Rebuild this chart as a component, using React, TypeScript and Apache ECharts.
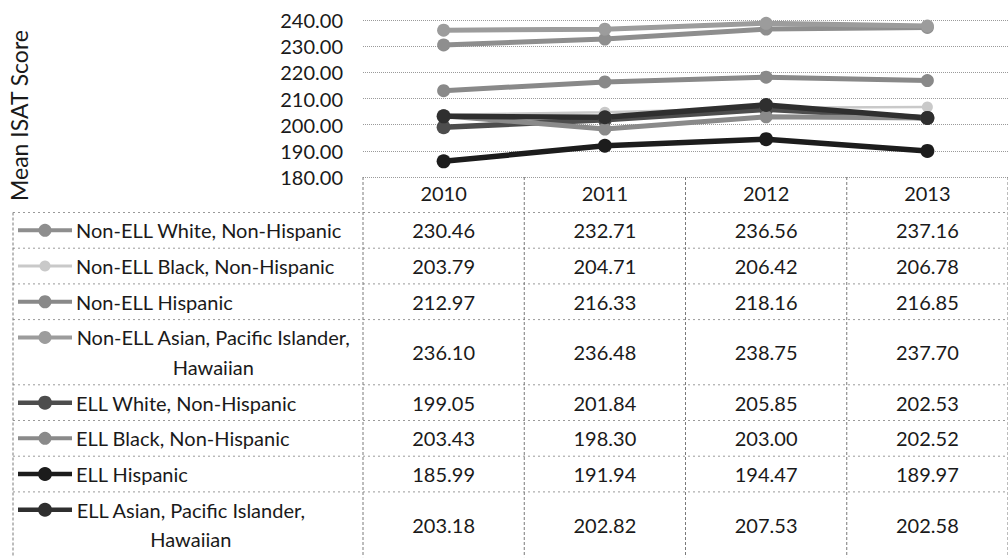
import React, { useEffect, useRef } from "react";
import * as echarts from "echarts";

const years = ["2010", "2011", "2012", "2013"];
const seriesNames = [
  "Non-ELL White, Non-Hispanic",
  "Non-ELL Black, Non-Hispanic",
  "Non-ELL Hispanic",
  "Non-ELL Asian, Pacific Islander, Hawaiian",
  "ELL White, Non-Hispanic",
  "ELL Black, Non-Hispanic",
  "ELL Hispanic",
  "ELL Asian, Pacific Islander, Hawaiian",
];
const nonEllWhite = [230.46, 232.71, 236.56, 237.16];
const nonEllBlack = [203.79, 204.71, 206.42, 206.78];
const nonEllHispanic = [212.97, 216.33, 218.16, 216.85];
const nonEllAsian = [236.1, 236.48, 238.75, 237.7];
const ellWhite = [199.05, 201.84, 205.85, 202.53];
const ellBlack = [203.43, 198.3, 203.0, 202.52];
const ellHispanic = [185.99, 191.94, 194.47, 189.97];
const ellAsian = [203.18, 202.82, 207.53, 202.58];
const seriesValues = [
  nonEllWhite,
  nonEllBlack,
  nonEllHispanic,
  nonEllAsian,
  ellWhite,
  ellBlack,
  ellHispanic,
  ellAsian,
];
const yMin = 180;
const yMax = 240;
const yStep = 10;
const yTitle = "Mean ISAT Score";

// styles (kept apart from the data)
const seriesColors = ["#8e8e8e", "#c9c9c9", "#898989", "#9c9c9c", "#4d4d4d", "#8a8a8a", "#1c1c1c", "#2f2f2f"];
const seriesWidths = [5, 2.5, 5, 5, 5.5, 5, 5.5, 5.5];
const seriesSymbol = [13, 11, 13, 13, 14, 13, 14, 14];

const FONT = "Lato, 'Liberation Sans', sans-serif";
const FS = 20;
const TEXT = "#1a1a1a";
const W = 1008;
const H = 558;

export default function App() {
  const ref = useRef<HTMLDivElement>(null);
  useEffect(() => {
    const chart = echarts.init(ref.current!, null, { renderer: "svg", width: W, height: H });
    chart.setOption({
      animation: false,
      backgroundColor: "#ffffff",
      grid: { left: 363, top: 20, width: 652, height: 157 },
      xAxis: {
        type: "category",
        data: years,
        boundaryGap: true,
        axisLine: { show: false },
        axisTick: { show: false },
        axisLabel: { margin: 6, fontSize: FS, color: TEXT, fontFamily: FONT },
        splitLine: { show: false },
      },
      yAxis: {
        type: "value",
        min: yMin,
        max: yMax,
        interval: yStep,
        axisLine: { show: false },
        axisTick: { show: false },
        axisLabel: {
          margin: 20,
          fontSize: FS,
          color: TEXT,
          fontFamily: FONT,
          formatter: (v: number) => v.toFixed(2),
        },
        splitLine: { lineStyle: { type: "dotted", color: "#9a9a9a", width: 1 } },
      },
      series: seriesValues.map((d, i) => ({
        type: "line",
        name: seriesNames[i],
        data: d,
        symbol: "circle",
        symbolSize: seriesSymbol[i],
        lineStyle: { color: seriesColors[i], width: seriesWidths[i] },
        itemStyle: { color: seriesColors[i] },
        emphasis: { disabled: true },
      })),
    });

    const cx = years.map((y) => chart.convertToPixel({ xAxisIndex: 0 }, y) as number);
    const colW = cx[1] - cx[0];
    const bounds = [cx[0] - colW / 2, ...cx.map((c) => c + colW / 2)];
    const plotBottom = chart.convertToPixel({ yAxisIndex: 0 }, yMin) as number;
    const plotTop = chart.convertToPixel({ yAxisIndex: 0 }, yMax) as number;

    const canvas = document.createElement("canvas");
    const ctx = canvas.getContext("2d")!;
    ctx.font = `${FS}px ${FONT}`;
    const measure = (s: string) => ctx.measureText(s).width;

    const tableLeft = 13;
    const textX = 76;
    const maxW = bounds[0] - textX + 4;
    const wrap = (s: string) => {
      const words = s.split(" ");
      const lines: string[] = [];
      let cur = "";
      for (const w of words) {
        const t = cur ? cur + " " + w : w;
        if (cur && measure(t) > maxW) {
          lines.push(cur);
          cur = w;
        } else cur = t;
      }
      lines.push(cur);
      return lines;
    };

    const headerBottom = 212.5;
    const rowH = 35.7;
    const lineH = 29.5;
    const els: any[] = [];
    const lineStyleH = { stroke: "#9a9a9a", lineWidth: 1, lineDash: [2, 3] };
    const lineStyleV = { stroke: "#7a7a7a", lineWidth: 1, lineDash: [3, 2] };

    let y = headerBottom;
    const rowTops: number[] = [];
    seriesNames.forEach((name, i) => {
      const lines = wrap(name);
      const h = rowH + (lines.length - 1) * lineH;
      rowTops.push(y);
      const mid = y + h / 2;
      const firstLineY = mid - ((lines.length - 1) * lineH) / 2;
      // legend key
      els.push({
        type: "line",
        shape: { x1: 18, y1: firstLineY, x2: 72, y2: firstLineY },
        style: { stroke: seriesColors[i], lineWidth: Math.max(3, seriesWidths[i] - 1) },
        silent: true,
      });
      els.push({
        type: "circle",
        shape: { cx: 45, cy: firstLineY, r: seriesSymbol[i] / 2 },
        style: { fill: seriesColors[i] },
        silent: true,
      });
      // name
      if (lines.length === 1) {
        els.push({
          type: "text",
          x: textX,
          y: mid,
          style: { text: name, font: `${FS}px ${FONT}`, fill: TEXT, align: "left", verticalAlign: "middle" },
          silent: true,
        });
      } else {
        const w1 = measure(lines[0]);
        lines.forEach((ln, k) => {
          els.push({
            type: "text",
            x: textX + w1 / 2,
            y: firstLineY + k * lineH,
            style: { text: ln, font: `${FS}px ${FONT}`, fill: TEXT, align: "center", verticalAlign: "middle" },
            silent: true,
          });
        });
      }
      // values
      seriesValues[i].forEach((v, j) => {
        els.push({
          type: "text",
          x: cx[j],
          y: mid,
          style: { text: v.toFixed(2), font: `${FS}px ${FONT}`, fill: TEXT, align: "center", verticalAlign: "middle" },
          silent: true,
        });
      });
      y += h;
    });
    const tableBottom = y;
    rowTops.forEach((t) => {
      els.push({ type: "line", shape: { x1: tableLeft, y1: t, x2: W, y2: t }, style: lineStyleH, silent: true });
    });
    els.push({ type: "line", shape: { x1: tableLeft, y1: headerBottom, x2: tableLeft, y2: tableBottom }, style: lineStyleV, silent: true });
    bounds.forEach((b) => {
      els.push({ type: "line", shape: { x1: b, y1: plotBottom, x2: b, y2: tableBottom }, style: lineStyleV, silent: true });
    });
    els.push({
      type: "text",
      x: 19,
      y: (plotTop + plotBottom) / 2 + 17,
      rotation: Math.PI / 2,
      style: { text: yTitle, font: `23px ${FONT}`, fill: TEXT, align: "center", verticalAlign: "middle" },
      silent: true,
    });
    chart.setOption({ graphic: els });
    return () => chart.dispose();
  }, []);
  return (
    <div
      ref={ref}
      style={{ position: "fixed", left: 0, top: 0, width: W, height: H, background: "#fff" }}
    />
  );
}
